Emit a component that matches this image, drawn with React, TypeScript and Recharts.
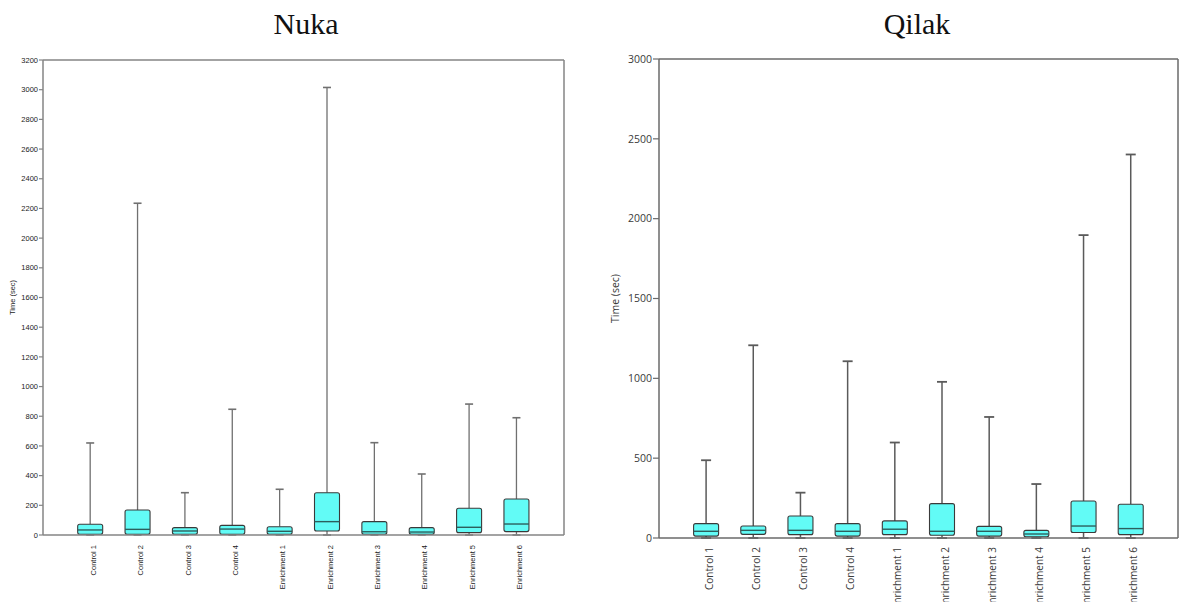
import React from 'react';
import { ComposedChart, Bar, XAxis, YAxis, ReferenceLine } from 'recharts';

const categories = ['Control 1', 'Control 2', 'Control 3', 'Control 4', 'Enrichment 1', 'Enrichment 2', 'Enrichment 3', 'Enrichment 4', 'Enrichment 5', 'Enrichment 6'];
const categoryPositions = [1, 2, 3, 4, 5, 6, 7, 8, 9, 10];

// Nuka
const nukaMin = [0, 0, 0, 0, 0, 0, 0, 0, 0, 0];
const nukaQ1 = [5, 5, 5, 5, 5, 27, 5, 5, 16, 23];
const nukaMedian = [34, 38, 27, 40, 25, 90, 22, 20, 52, 74];
const nukaQ3 = [72, 168, 50, 65, 56, 285, 90, 50, 180, 243];
const nukaMax = [620, 2235, 285, 847, 308, 3015, 622, 411, 882, 790];
const nukaTicks = [0, 200, 400, 600, 800, 1000, 1200, 1400, 1600, 1800, 2000, 2200, 2400, 2600, 2800, 3000, 3200];

// Qilak
const qilakMin = [0, 0, 0, 0, 0, 0, 0, 0, 0, 0];
const qilakQ1 = [12, 23, 21, 12, 21, 17, 12, 8, 34, 21];
const qilakMedian = [42, 48, 48, 42, 55, 42, 42, 25, 75, 59];
const qilakQ3 = [90, 75, 138, 90, 107, 215, 73, 48, 232, 211];
const qilakMax = [487, 1207, 284, 1107, 598, 978, 758, 338, 1897, 2402];
const qilakTicks = [0, 500, 1000, 1500, 2000, 2500, 3000];

const buildRows = (mn: number[], q1: number[], med: number[], q3: number[], mx: number[]) =>
  categories.map((name, i) => ({
    name,
    pos: categoryPositions[i],
    min: mn[i],
    q1: q1[i],
    median: med[i],
    q3: q3[i],
    max: mx[i],
  }));

const nukaRows = buildRows(nukaMin, nukaQ1, nukaMedian, nukaQ3, nukaMax);
const qilakRows = buildRows(qilakMin, qilakQ1, qilakMedian, qilakQ3, qilakMax);

const BOX_FILL = '#62FBF6';

const BoxShape = (props: any) => {
  const { x, y, width, height, payload, capW, whisker, whiskerW, boxStroke } = props;
  if (!payload) return null;
  const { min, q1, median, q3, max } = payload;
  const top = Math.min(y, y + height);
  const h = Math.abs(height);
  const span = max - min || 1;
  const py = (v: number) => top + (h * (max - v)) / span;
  const cx = x + width / 2;
  const yMax = py(max);
  const yQ3 = py(q3);
  const yMed = py(median);
  const yQ1 = py(q1);
  const yMin = py(min);
  return (
    <g>
      <line x1={cx} x2={cx} y1={yMax} y2={yQ3} stroke={whisker} strokeWidth={whiskerW} />
      <line x1={cx - capW / 2} x2={cx + capW / 2} y1={yMax} y2={yMax} stroke={whisker} strokeWidth={whiskerW + 0.3} />
      <line x1={cx} x2={cx} y1={yQ1} y2={yMin} stroke={whisker} strokeWidth={whiskerW} />
      <line x1={cx - capW / 2} x2={cx + capW / 2} y1={yMin} y2={yMin} stroke={whisker} strokeWidth={whiskerW + 0.3} />
      <rect x={x} y={yQ3} width={width} height={Math.max(yQ1 - yQ3, 1)} rx={2} ry={2} fill={BOX_FILL} stroke={boxStroke} strokeWidth={1.1} />
      <line x1={x} x2={x + width} y1={yMed} y2={yMed} stroke="#2c5f5d" strokeWidth={1.4} />
    </g>
  );
};

const XTick = (props: any) => {
  const { x, y, payload, fontSize, fontFamily, fill, gap, dyPx } = props;
  const label = categories[categoryPositions.indexOf(payload.value)] ?? '';
  return (
    <g transform={`translate(${x},${y})`}>
      <text transform="rotate(-90)" x={-gap} y={0} dy={dyPx} textAnchor="end" fontSize={fontSize} fontFamily={fontFamily} fill={fill}>
        {label}
      </text>
    </g>
  );
};

const YLabel = (props: any) => {
  const { viewBox, lx, text, fontSize, fontFamily, fill } = props;
  const cy = viewBox ? viewBox.y + viewBox.height / 2 : 300;
  return (
    <text x={lx} y={cy} transform={`rotate(-90, ${lx}, ${cy})`} textAnchor="middle" dominantBaseline="central" fontSize={fontSize} fontFamily={fontFamily} fill={fill}>
      {text}
    </text>
  );
};

type PanelProps = {
  rows: any[];
  width: number;
  margin: any;
  yWidth: number;
  xHeight: number;
  yMax: number;
  ticks: number[];
  font: string;
  tickFont: number;
  xFont: number;
  labelFont: number;
  labelX: number;
  axisColor: string;
  textColor: string;
  whisker: string;
  whiskerW: number;
  capW: number;
  barSize: number;
  yTickSize: number;
  xGap: number;
  xDy: number;
};

const X_MAX = 11;

const Panel = (p: PanelProps) => (
  <ComposedChart width={p.width} height={602} data={p.rows} margin={p.margin}>
    <XAxis
      dataKey="pos"
      type="number"
      domain={[0, X_MAX]}
      ticks={categoryPositions}
      allowDataOverflow
      height={p.xHeight}
      tickLine={false}
      tickSize={0}
      tickMargin={0}
      axisLine={{ stroke: p.axisColor, strokeWidth: 1.5 }}
      interval={0}
      tick={<XTick fontSize={p.xFont} fontFamily={p.font} fill={p.textColor} gap={p.xGap} dyPx={p.xDy} />}
    />
    <YAxis
      type="number"
      domain={[0, p.yMax]}
      ticks={p.ticks}
      interval={0}
      width={p.yWidth}
      tickSize={p.yTickSize}
      tickMargin={1}
      tickLine={{ stroke: p.axisColor, strokeWidth: 1.2 }}
      axisLine={{ stroke: p.axisColor, strokeWidth: 1.5 }}
      tick={{ fontSize: p.tickFont, fontFamily: p.font, fill: p.textColor }}
      label={<YLabel lx={p.labelX} text="Time (sec)" fontSize={p.labelFont} fontFamily={p.font} fill={p.textColor} />}
    />
    <ReferenceLine y={p.yMax} stroke={p.axisColor} strokeWidth={1.5} ifOverflow="extendDomain" />
    <ReferenceLine x={X_MAX} stroke={p.axisColor} strokeWidth={1.5} ifOverflow="extendDomain" />
    <Bar
      dataKey={(d: any) => [d.min, d.max]}
      barSize={p.barSize}
      isAnimationActive={false}
      shape={(sp: any) => <BoxShape {...sp} capW={p.capW} whisker={p.whisker} whiskerW={p.whiskerW} boxStroke="#3a3a3a" />}
    />
  </ComposedChart>
);

const titleStyle: React.CSSProperties = {
  position: 'absolute',
  top: 9,
  fontFamily: '"Liberation Serif", "Times New Roman", serif',
  fontSize: 30,
  lineHeight: '30px',
  color: '#111',
  textAlign: 'center',
  width: 200,
};

export default function App() {
  return (
    <div style={{ position: 'absolute', left: 0, top: 0, width: 1180, height: 602, background: '#fff', overflow: 'hidden' }}>
      <div style={{ ...titleStyle, left: 306 - 100 }}>Nuka</div>
      <div style={{ ...titleStyle, left: 917 - 100 }}>Qilak</div>
      <div style={{ position: 'absolute', left: 0, top: 0 }}>
        <Panel
          rows={nukaRows}
          width={580}
          margin={{ top: 60, right: 16, bottom: 0, left: 8 }}
          yWidth={35}
          xHeight={67}
          yMax={3200}
          ticks={nukaTicks}
          font={'"Liberation Sans", Arial, sans-serif'}
          tickFont={7.5}
          xFont={7.5}
          labelFont={7.5}
          labelX={12}
          axisColor="#858585"
          textColor="#1a1a1a"
          whisker="#707070"
          whiskerW={1.3}
          capW={8}
          barSize={25}
          yTickSize={4}
          xGap={10}
          xDy={5.5}
        />
      </div>
      <div style={{ position: 'absolute', left: 580, top: 0 }}>
        <Panel
          rows={qilakRows}
          width={600}
          margin={{ top: 59, right: 2, bottom: 0, left: 19 }}
          yWidth={60}
          xHeight={64}
          yMax={3000}
          ticks={qilakTicks}
          font={'"Open Sans", sans-serif'}
          tickFont={10.5}
          xFont={10}
          labelFont={10.5}
          labelX={35}
          axisColor="#6a6a6a"
          textColor="#3a3a3a"
          whisker="#5a5a5a"
          whiskerW={1.5}
          capW={10}
          barSize={25}
          yTickSize={6}
          xGap={9}
          xDy={6.5}
        />
      </div>
    </div>
  );
}
